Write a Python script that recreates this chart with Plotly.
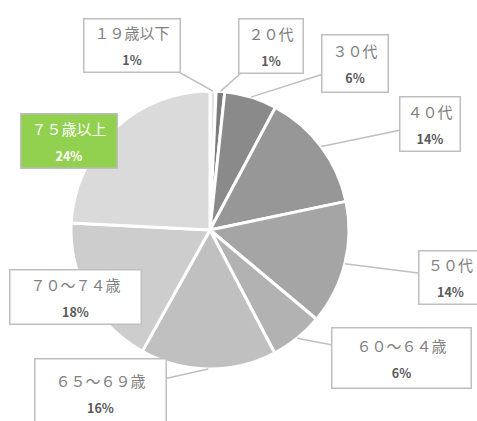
import math
import plotly.graph_objects as go

categories = ["１９歳以下", "２０代", "３０代", "４０代", "５０代",
              "６０～６４歳", "６５～６９歳", "７０～７４歳", "７５歳以上"]
values = [0.7, 1.0, 6.1, 13.9, 14.4, 6.2, 15.8, 17.7, 24.2]
pct_labels = ["1%", "1%", "6%", "14%", "14%", "6%", "16%", "18%", "24%"]
colors = ["#e4e4e4", "#7c7c7c", "#8a8a8a", "#979797", "#a5a5a5",
          "#b2b2b2", "#c0c0c0", "#cdcdcd", "#dadada"]

W, H = 477, 421
CX, CY, R = 210, 230, 139

# callout boxes: (center x, center y, width, height, show leader)
boxes = [
    (132, 46, 97, 54, True),
    (271, 46, 65, 55, True),
    (355, 64, 67, 58, True),
    (430, 124, 61, 55, True),
    (450, 277, 64, 54, True),
    (401, 358, 140, 61, True),
    (100, 393, 132, 70, True),
    (75, 297, 132, 55, False),
    (69, 141, 97, 55, False),
]

fig = go.Figure(go.Pie(
    labels=categories, values=values, sort=False, direction="clockwise",
    rotation=0, textinfo="none", hoverinfo="label+percent",
    marker=dict(colors=colors, line=dict(color="white", width=3)),
    domain=dict(x=[(CX - R) / W, (CX + R) / W], y=[1 - (CY + R) / H, 1 - (CY - R) / H]),
    showlegend=False,
))

total = sum(values)
cum = 0
annotations = []
for i, (cat, v) in enumerate(zip(categories, values)):
    theta = 2 * math.pi * (cum + v / 2) / total
    cum += v
    hx = CX + R * math.sin(theta)
    hy = CY - R * math.cos(theta)
    bx, by, bw, bh, lead = boxes[i]
    highlight = i == len(categories) - 1
    lab_col = "white" if highlight else "#7f7f7f"
    pct_col = "white" if highlight else "#595959"
    text = (f"<span style='font-size:15px;color:{lab_col}'>{cat}</span><br>"
            f"<span style='font-size:12.5px;color:{pct_col}'><b>{pct_labels[i]}</b></span>")
    ann = dict(
        text=text, xref="paper", yref="paper",
        width=bw - 4, height=bh - 4,
        align="center", valign="middle",
        bgcolor="#92d050" if highlight else "white",
        bordercolor="#bfbfbf", borderwidth=1.5, borderpad=1,
        font=dict(family="Noto Sans CJK JP", size=20),
    )
    if lead:
        ann.update(x=hx / W, y=1 - hy / H, showarrow=True, arrowhead=0,
                   arrowwidth=1.5, arrowcolor="#bfbfbf",
                   ax=bx - hx, ay=by - hy, axref="pixel", ayref="pixel")
    else:
        ann.update(x=bx / W, y=1 - by / H, showarrow=False,
                   xanchor="center", yanchor="middle")
    annotations.append(ann)

fig.update_layout(
    width=W, height=H, margin=dict(l=0, r=0, t=0, b=0),
    paper_bgcolor="white", plot_bgcolor="white",
    annotations=annotations,
)
fig.write_html("out.html", config={"displayModeBar": False},
               post_script="document.body.style.margin='0';document.body.style.overflow='hidden';")
